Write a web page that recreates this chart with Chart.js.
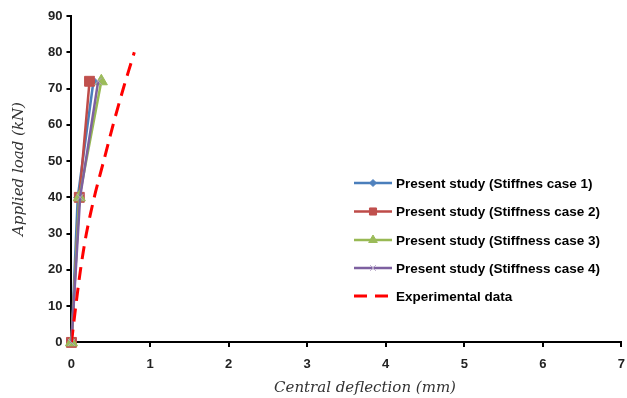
<!DOCTYPE html>
<html>
<head>
<meta charset="utf-8">
<script src="https://cdn.jsdelivr.net/npm/chart.js@4"></script>
<style>
  html, body { margin: 0; padding: 0; background: #fff; }
  #wrap { width: 627px; height: 398px; position: relative; }
</style>
</head>
<body>
<div id="wrap"><canvas id="loadChart" width="627" height="398"></canvas></div>
<script>
// values
const seriesLabels = [
    'Present study (Stiffnes case 1)',
    'Present study (Stiffness case 2)',
    'Present study (Stiffness case 3)',
    'Present study (Stiffness case 4)',
    'Experimental data'
];
const loadSteps = [0, 40, 72];
const deflCase1 = [0, 0.08, 0.28];
const deflCase2 = [0, 0.10, 0.23];
const deflCase3 = [0, 0.10, 0.38];
const deflCase4 = [0, 0.11, 0.34];
const expLoad = [0, 10, 20, 30, 40, 50, 60, 70, 80];
const expDefl = [0, 0.055, 0.115, 0.19, 0.29, 0.41, 0.53, 0.66, 0.80];
const xTicks = [0, 1, 2, 3, 4, 5, 6, 7];
const yTicks = [0, 10, 20, 30, 40, 50, 60, 70, 80, 90];

const toPoints = (xs, ys) => xs.map((x, i) => ({ x: x, y: ys[i] }));

const styles = [
    { color: '#4A7EBB', fill: '#4F81BD', style: 'rectRot', r: 4 },
    { color: '#BE4B48', fill: '#C0504D', style: 'rect', r: 7 },
    { color: '#98B954', fill: '#9BBB59', style: 'triangle', r: 7 },
    { color: '#7D60A0', fill: '#B3A2C7', style: 'crossRot', r: 5 }
];
const legendRadius = [3.5, 5, 5, 4];

const caseData = [deflCase1, deflCase2, deflCase3, deflCase4];

const datasets = caseData.map((d, i) => ({
    label: seriesLabels[i],
    data: toPoints(d, loadSteps),
    showLine: true,
    clip: false,
    borderColor: styles[i].color,
    borderWidth: 2.5,
    pointStyle: styles[i].style,
    pointRadius: styles[i].r,
    pointBackgroundColor: styles[i].fill,
    pointBorderColor: styles[i].fill,
    pointBorderWidth: 1,
    order: 4 - i
}));

datasets.push({
    label: seriesLabels[4],
    data: toPoints(expDefl, expLoad),
    showLine: true,
    borderColor: '#FF0000',
    borderWidth: 3,
    borderDash: [13, 8],
    pointRadius: 0,
    tension: 0.3,
    order: 0
});

const tickFont = { family: '"Liberation Sans", Arial, sans-serif', size: 13, weight: 'bold' };

const extras = {
    id: 'extras',
    afterDraw(chart) {
        const ctx = chart.ctx;
        ctx.save();
        // axis titles
        ctx.fillStyle = '#333';
        ctx.font = 'italic 15px "DejaVu Serif", "Liberation Serif", serif';
        ctx.textAlign = 'center';
        ctx.textBaseline = 'middle';
        ctx.fillText('Central deflection (mm)', 365, 388);
        ctx.save();
        ctx.translate(19, 169);
        ctx.rotate(-Math.PI / 2);
        ctx.fillText('Applied load (kN)', 0, 0);
        ctx.restore();

        // legend
        const rows = [183, 211.5, 240, 268, 296];
        const x0 = 354, x1 = 392;
        chart.data.datasets.forEach((ds, i) => {
            const y = rows[i];
            ctx.strokeStyle = ds.borderColor;
            ctx.lineWidth = ds.borderWidth;
            ctx.setLineDash(ds.borderDash || []);
            ctx.beginPath();
            ctx.moveTo(x0, y);
            ctx.lineTo(x1, y);
            ctx.stroke();
            ctx.setLineDash([]);
            if (ds.pointRadius > 0) {
                ctx.fillStyle = ds.pointBackgroundColor;
                ctx.strokeStyle = ds.pointBorderColor;
                ctx.lineWidth = 1;
                Chart.helpers.drawPoint(ctx, {
                    pointStyle: ds.pointStyle,
                    radius: legendRadius[i],
                    borderWidth: 1
                }, (x0 + x1) / 2, y);
            }
            ctx.fillStyle = '#000';
            ctx.font = 'bold 13.5px "Liberation Sans", Arial, sans-serif';
            ctx.textAlign = 'left';
            ctx.textBaseline = 'middle';
            ctx.fillText(ds.label, 396, y + 1);
        });
        ctx.restore();
    }
};

new Chart(document.getElementById('loadChart'), {
    type: 'scatter',
    data: { datasets: datasets },
    options: {
        responsive: false,
        animation: false,
        layout: { autoPadding: false, padding: { left: 44, right: 4, top: 16, bottom: 24 } },
        plugins: {
            legend: { display: false },
            tooltip: { enabled: false }
        },
        scales: {
            x: {
                type: 'linear',
                min: 0,
                max: 7,
                afterBuildTicks: (axis) => { axis.ticks = xTicks.map(v => ({ value: v })); },
                ticks: { font: tickFont, color: '#222', padding: 2 },
                grid: {
                    display: true, drawOnChartArea: false, drawTicks: true,
                    tickLength: 12, tickBorderDash: [4, 40], color: '#000', lineWidth: 2
                },
                border: { display: true, color: '#000', width: 2 }
            },
            y: {
                type: 'linear',
                min: 0,
                max: 90,
                afterBuildTicks: (axis) => { axis.ticks = yTicks.map(v => ({ value: v })); },
                ticks: { font: tickFont, color: '#222', padding: 4 },
                grid: { display: true, drawOnChartArea: false, drawTicks: true, tickLength: 5, color: '#000', lineWidth: 2 },
                border: { display: true, color: '#000', width: 2 }
            }
        }
    },
    plugins: [extras]
});
</script>
</body>
</html>
